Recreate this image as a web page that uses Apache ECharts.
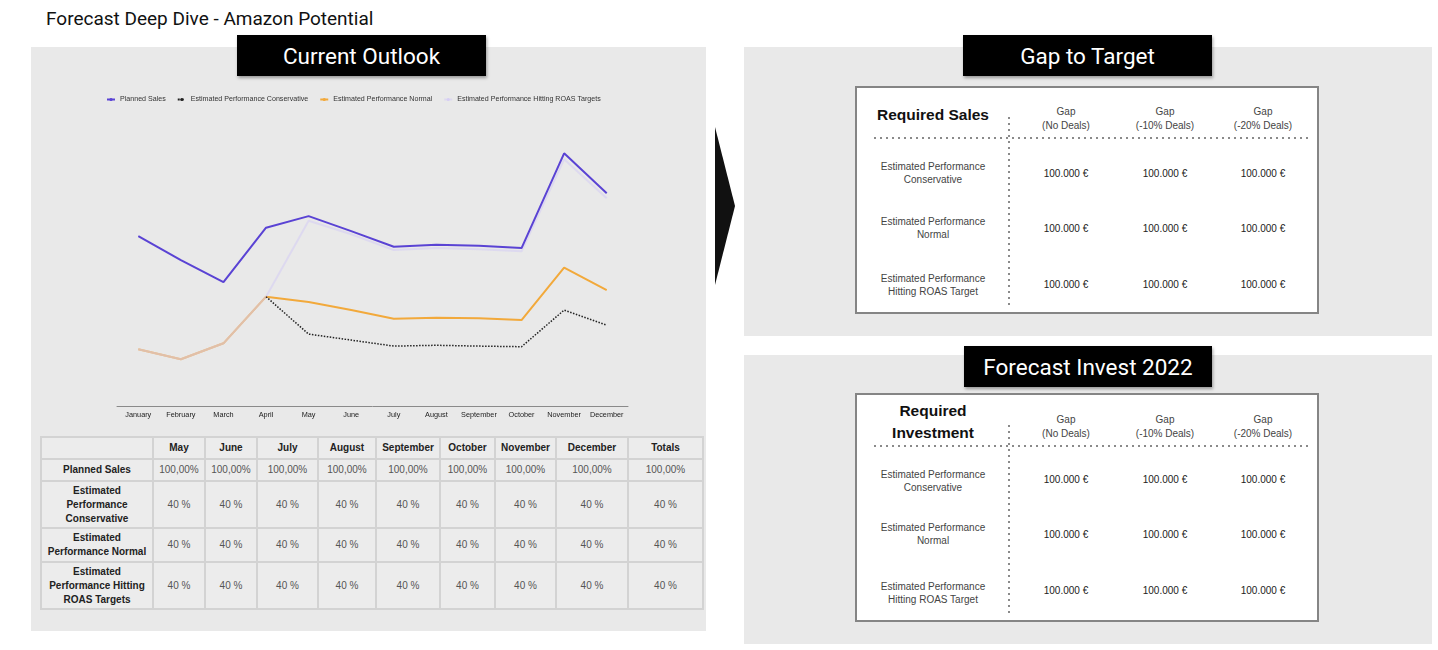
<!DOCTYPE html>
<html><head><meta charset="utf-8">
<script src="https://cdn.jsdelivr.net/npm/echarts@6/dist/echarts.min.js"></script>
<style>
body{margin:0;background:#fff;}
#page{position:relative;width:1438px;height:650px;overflow:hidden;font-family:'Liberation Sans',Arial,sans-serif;}
.panel{position:absolute;background:#e9e9e9;}
.tbox{position:absolute;background:#000;color:#fff;font-family:Roboto,sans-serif;font-size:22.5px;display:flex;align-items:center;justify-content:center;box-shadow:1px 2px 3px rgba(0,0,0,.35);}
.c{position:absolute;transform:translate(-50%,-50%);white-space:pre;text-align:center;}
.gbox{position:absolute;background:#fff;border:2px solid #858585;box-sizing:border-box;}
.hdot{position:absolute;height:2px;background-image:radial-gradient(circle,#8a8a8a 0.9px,transparent 1.2px);background-size:6px 2px;background-repeat:repeat-x;}
.vdot{position:absolute;width:2px;background-image:radial-gradient(circle,#8a8a8a 0.9px,transparent 1.2px);background-size:2px 6px;background-repeat:repeat-y;}
table.t{position:absolute;border-collapse:collapse;table-layout:fixed;}
table.t td{border:2px solid #d3d3d3;background:#ececec;text-align:center;font-size:10px;line-height:14px;color:#555;padding:0;white-space:pre-line;}
table.t td.h{font-weight:bold;color:#222;}
.lbl{font-size:10px;color:#444;line-height:13.5px;}
.val{font-size:10px;color:#222;}
.req{font-size:15.5px;font-weight:bold;color:#111;line-height:22px;}
</style></head>
<body>
<div id="page">
  <div style="position:absolute;left:46px;top:7px;font-family:Roboto,sans-serif;font-size:19px;color:#111;">Forecast Deep Dive - Amazon Potential</div>
  <div class="panel" style="left:31px;top:47px;width:675px;height:584px"></div>
  <div class="panel" style="left:744px;top:47px;width:688px;height:289px"></div>
  <div class="panel" style="left:744px;top:355px;width:688px;height:289px"></div>
  <div class="tbox" style="left:237px;top:35px;width:249px;height:41px">Current Outlook</div>
  <div class="tbox" style="left:963px;top:35px;width:249px;height:41px">Gap to Target</div>
  <div class="tbox" style="left:964px;top:346px;width:248px;height:41px">Forecast Invest 2022</div>
  <div style="position:absolute;left:715px;top:127px;width:0;height:0;border-top:79px solid transparent;border-bottom:79px solid transparent;border-left:20px solid #111;"></div>
  <div id="chart" style="position:absolute;left:31px;top:80px;width:675px;height:350px"></div>
  <table class="t" id="tbl" style="left:40px;top:436px;width:663px;"></table>
  <div class="gbox" id="gap1" style="left:855px;top:86px;width:464px;height:228px"></div>
  <div class="gbox" id="gap2" style="left:855px;top:393px;width:464px;height:229px"></div>
</div>
<script>
// ---- chart data ----
const months = ['January','February','March','April','May','June','July','August','September','October','November','December'];
const seriesNames = ['Planned Sales','Estimated Performance Conservative','Estimated Performance Normal','Estimated Performance Hitting ROAS Targets'];
const plannedSales = [85.3,73.3,62.3,89.5,95.3,87.8,80,81,80.5,79.3,126.7,106.7];
const conservative = [null,null,null,55,36.3,33.3,30.3,30.7,30.3,30,48.3,40.8];
const normal = [28.7,23.7,31.7,55,52.3,48.3,44,44.5,44.2,43.3,69.5,58.3];
const roasTargets = [28.7,23.7,31.7,55,93,86.2,78.3,79.3,78.7,77.7,123.7,104.2];

// ---- left table data ----
const tableColumns = ['May','June','July','August','September','October','November','December','Totals'];
const tableRowLabels = ['Planned Sales','Estimated\nPerformance\nConservative','Estimated\nPerformance Normal','Estimated\nPerformance Hitting\nROAS Targets'];
const plannedRow = ['100,00%','100,00%','100,00%','100,00%','100,00%','100,00%','100,00%','100,00%','100,00%'];
const conservativeRow = ['40 %','40 %','40 %','40 %','40 %','40 %','40 %','40 %','40 %'];
const normalRow = ['40 %','40 %','40 %','40 %','40 %','40 %','40 %','40 %','40 %'];
const roasRow = ['40 %','40 %','40 %','40 %','40 %','40 %','40 %','40 %','40 %'];

// ---- gap tables data ----
const gapHeaders = ['Gap\n(No Deals)','Gap\n(-10% Deals)','Gap\n(-20% Deals)'];
const gapRowLabels = ['Estimated Performance\nConservative','Estimated Performance\nNormal','Estimated Performance\nHitting ROAS Target'];
const requiredSalesValues = [['100.000 €','100.000 €','100.000 €'],['100.000 €','100.000 €','100.000 €'],['100.000 €','100.000 €','100.000 €']];
const requiredInvestValues = [['100.000 €','100.000 €','100.000 €'],['100.000 €','100.000 €','100.000 €'],['100.000 €','100.000 €','100.000 €']];

// ---- build left table ----
(function(){
  const colW = [112,52,52,61,58,64,55,61,72,75];
  const rowH = [22,22,47,34,47];
  const t = document.getElementById('tbl');
  const cg = document.createElement('colgroup');
  colW.forEach(w=>{const c=document.createElement('col');c.style.width=w+'px';cg.appendChild(c);});
  t.appendChild(cg);
  const rows = [[''].concat(tableColumns)];
  const vals = [plannedRow,conservativeRow,normalRow,roasRow];
  tableRowLabels.forEach((l,i)=>rows.push([l].concat(vals[i])));
  rows.forEach((r,ri)=>{
    const tr=document.createElement('tr');tr.style.height=rowH[ri]+'px';
    r.forEach((v,ci)=>{const td=document.createElement('td');td.textContent=v;if(ri===0||ci===0)td.className='h';tr.appendChild(td);});
    t.appendChild(tr);
  });
})();

// ---- build gap boxes ----
function place(box,text,cx,cy,cls){
  const d=document.createElement('div');d.className='c '+cls;d.textContent=text;
  d.style.left=cx+'px';d.style.top=cy+'px';box.appendChild(d);
}
function buildGap(id,title,titleY,hdrY,hY,vTop,rowY,valY,values){
  const b=document.getElementById(id);
  const o=2; // border offset
  place(b,title,78-o,titleY-o,'req');
  const colX=[211,310,408];
  gapHeaders.forEach((h,i)=>place(b,h,colX[i]-o,hdrY-o,'lbl'));
  const hd=document.createElement('div');hd.className='hdot';hd.style.left=(17-o)+'px';hd.style.width='440px';hd.style.top=(hY-1-o)+'px';b.appendChild(hd);
  const vd=document.createElement('div');vd.className='vdot';vd.style.left=(153-o)+'px';vd.style.top=(vTop-o)+'px';vd.style.height=(222-vTop)+'px';b.appendChild(vd);
  gapRowLabels.forEach((l,i)=>place(b,l,78-o,rowY[i]-o,'lbl'));
  values.forEach((r,i)=>r.forEach((v,j)=>place(b,v,colX[j]-o,valY[i]-o,'val')));
}
buildGap('gap1','Required Sales',29,32,51.7,29,[86.7,141.7,198.7],[86.7,141.7,197.7],requiredSalesValues);
buildGap('gap2','Required\nInvestment',29,33,53,30,[87.5,140.7,199.5],[86,141,197],requiredInvestValues);

// ---- chart ----
const chart = echarts.init(document.getElementById('chart'), null, {renderer:'canvas'});
chart.setOption({
  animation:false,
  backgroundColor:'transparent',
  textStyle:{fontFamily:'Liberation Sans, Arial, sans-serif'},
  legend:{
    data:seriesNames, left:75, top:16, itemWidth:8, itemHeight:4, itemGap:11, padding:0,
    textStyle:{fontSize:7.1,color:'#333'}
  },
  grid:{left:86,right:78,top:46.7,bottom:23.3},
  xAxis:{
    type:'category', data:months, boundaryGap:true,
    axisTick:{show:false},
    axisLine:{lineStyle:{color:'#8a8a8a',width:1}},
    axisLabel:{fontSize:7.3,color:'#222',margin:5,interval:0}
  },
  yAxis:{type:'value',min:0,max:140,show:false,splitLine:{show:false}},
  series:[
    {name:seriesNames[2],type:'line',data:normal,symbol:'none',lineStyle:{color:'#f2a93b',width:2},itemStyle:{color:'#f2a93b'},z:2},
    {name:seriesNames[3],type:'line',data:roasTargets,symbol:'none',lineStyle:{color:'#d6cef4',width:2,opacity:0.6},itemStyle:{color:'#d6cef4'},z:3},
    {name:seriesNames[0],type:'line',data:plannedSales,symbol:'none',lineStyle:{color:'#5a43d4',width:2},itemStyle:{color:'#5a43d4'},z:4},
    {name:seriesNames[1],type:'line',data:conservative,symbol:'none',lineStyle:{color:'#222',width:1.5,type:'dotted'},itemStyle:{color:'#222'},z:5}
  ]
});
</script>
</body></html>
